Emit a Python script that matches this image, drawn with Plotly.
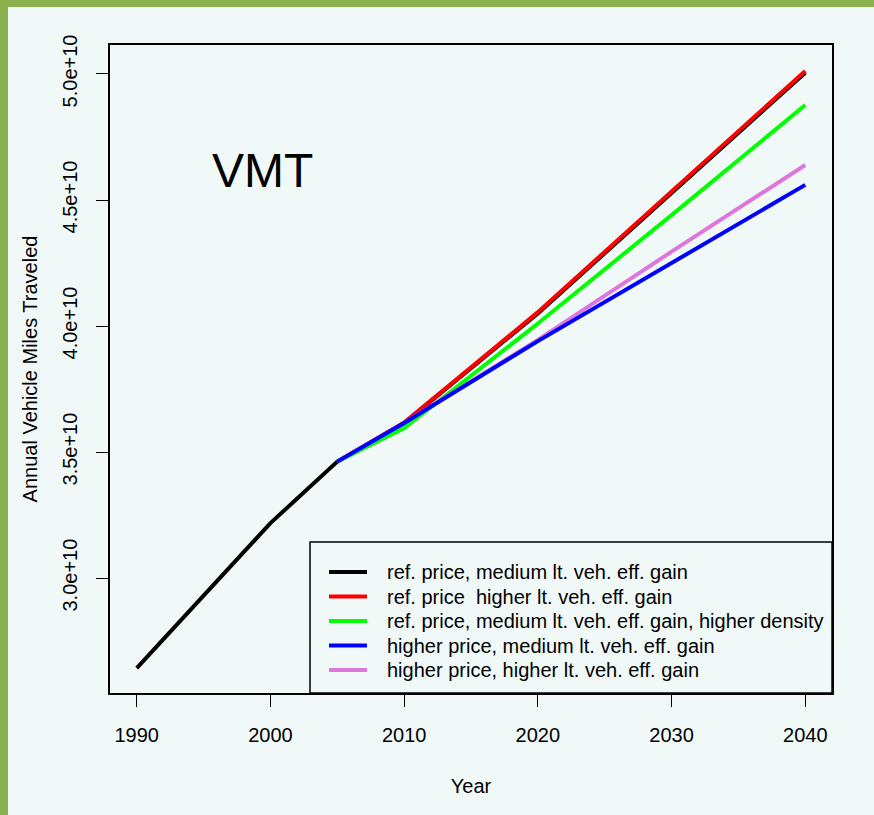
import plotly.graph_objects as go

years_hist = [1990, 2000, 2005, 2010, 2020, 2030, 2040]
years_proj = [2005, 2010, 2020, 2030, 2040]

ref_medium = [2.643e10, 3.218e10, 3.462e10, 3.615e10, 4.05e10, 4.53e10, 5.005e10]
ref_higher = [3.462e10, 3.617e10, 4.055e10, 4.535e10, 5.012e10]
ref_medium_density = [3.462e10, 3.595e10, 4.01e10, 4.44e10, 4.877e10]
high_medium = [3.462e10, 3.615e10, 3.94e10, 4.25e10, 4.56e10]
high_higher = [3.462e10, 3.615e10, 3.945e10, 4.295e10, 4.639e10]

names = [
    "ref. price, medium lt. veh. eff. gain",
    "ref. price  higher lt. veh. eff. gain",
    "ref. price, medium lt. veh. eff. gain, higher density",
    "higher price, medium lt. veh. eff. gain",
    "higher price, higher lt. veh. eff. gain",
]
colors = ["#000000", "#FF0000", "#00FF00", "#0000FF", "#DD77DD"]
draw_order = [0, 1, 2, 4, 3]

x_ticks = [1990, 2000, 2010, 2020, 2030, 2040]
y_ticks = [3.0e10, 3.5e10, 4.0e10, 4.5e10, 5.0e10]
y_tick_labels = ["3.0e+10", "3.5e+10", "4.0e+10", "4.5e+10", "5.0e+10"]

BG = "#F1F9F8"
GREEN = "#8BB24E"
FONT = "Liberation Sans, Arial, sans-serif"

fig = go.Figure()
series = [
    (years_hist, ref_medium),
    (years_proj, ref_higher),
    (years_proj, ref_medium_density),
    (years_proj, high_medium),
    (years_proj, high_higher),
]
for i in draw_order:
    xs, ys = series[i]
    fig.add_trace(go.Scatter(x=xs, y=ys, mode="lines", name=names[i],
                             line=dict(color=colors[i], width=4), showlegend=False))

L, R, T, B = 110, 42, 45, 122
W, H = 874, 815
pw, ph = W - L - R, H - T - B


def px_x(p):
    return (p - L) / pw


def px_y(p):
    return (H - B - p) / ph


# green frame strips (left and top)
fig.add_shape(type="rect", xref="paper", yref="paper",
              x0=px_x(0), x1=px_x(8), y0=px_y(H), y1=px_y(0),
              fillcolor=GREEN, line_width=0, layer="below")
fig.add_shape(type="rect", xref="paper", yref="paper",
              x0=px_x(0), x1=px_x(W), y0=px_y(7), y1=px_y(0),
              fillcolor=GREEN, line_width=0, layer="below")

# legend box (drawn like R's legend)
fig.add_shape(type="rect", xref="paper", yref="paper",
              x0=px_x(310), x1=1, y0=0, y1=px_y(542),
              fillcolor=BG, line=dict(color="black", width=1.5), layer="above")
for i, (name, col) in enumerate(zip(names, colors)):
    yy = px_y(572 + i * 24.5)
    fig.add_shape(type="line", xref="paper", yref="paper",
                  x0=px_x(329), x1=px_x(367), y0=yy, y1=yy,
                  line=dict(color=col, width=4), layer="above")
    fig.add_annotation(text=name, x=px_x(385), y=yy, xref="paper", yref="paper",
                       xanchor="left", yanchor="middle", showarrow=False,
                       font=dict(size=20, color="black", family=FONT))

fig.add_annotation(text="VMT", x=px_x(262), y=px_y(170), xref="paper", yref="paper",
                   xanchor="center", yanchor="middle", showarrow=False,
                   font=dict(size=48, color="black", family=FONT))

fig.update_layout(
    width=W, height=H,
    margin=dict(l=L, r=R, t=T, b=B, pad=0),
    paper_bgcolor=BG, plot_bgcolor=BG,
    font=dict(family=FONT, size=20, color="black"),
    showlegend=False,
    xaxis=dict(range=[1988, 2042], tickvals=x_ticks, ticks="outside",
               ticklen=12, tickcolor="black", showgrid=False, zeroline=False,
               showline=True, linecolor="black", linewidth=1.5, mirror=True,
               ticklabelstandoff=11,
               title=dict(text="Year", standoff=34, font=dict(size=20))),
    yaxis=dict(range=[2.544e10, 5.115e10], tickvals=y_ticks,
               ticktext=y_tick_labels, tickangle=-90, ticks="outside",
               ticklen=12, tickcolor="black", showgrid=False, zeroline=False,
               showline=True, linecolor="black", linewidth=1.5, mirror=True,
               ticklabelstandoff=11,
               title=dict(text="Annual Vehicle Miles Traveled", standoff=16,
                          font=dict(size=20))),
)

fig.write_html("out.html", config={"displayModeBar": False},
               post_script="document.body.style.margin='0';document.body.style.background='" + BG + "';")
